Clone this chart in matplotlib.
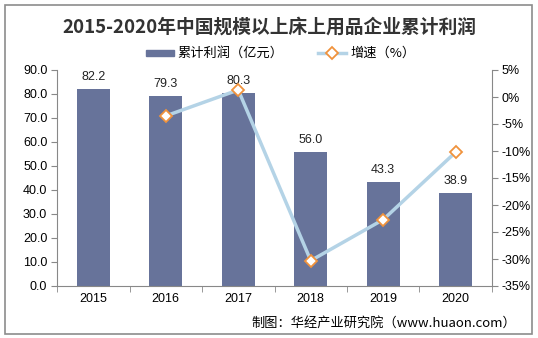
import matplotlib.pyplot as plt
from matplotlib.patches import Rectangle

plt.rcParams['font.family'] = ['Liberation Sans', 'Noto Sans CJK SC', 'DejaVu Sans']

years = ['2015', '2016', '2017', '2018', '2019', '2020']
profit = [82.2, 79.3, 80.3, 56.0, 43.3, 38.9]
growth = [None, -3.5, 1.3, -30.3, -22.7, -10.2]

bar_color = '#67739a'
line_color = '#b4d3e6'
marker_edge = '#f0923c'
axis_color = '#888888'
cjk = ['Noto Sans CJK SC', 'DejaVu Sans']

fig = plt.figure(figsize=(5.38, 3.38), dpi=100)
fig.patches.append(Rectangle((4.5 / 538, 4 / 338), 527.5 / 538, 329 / 338, transform=fig.transFigure,
                             fill=False, edgecolor='#8c8c8c', linewidth=1.2))

ax = fig.add_axes([57 / 538, 1 - 286 / 338, 435 / 538, 216 / 338])
x = list(range(len(years)))
ax.bar(x, profit, width=0.46, color=bar_color, zorder=2)
for xi, v in zip(x, profit):
    ax.text(xi, v + 2.5, '%.1f' % v, ha='center', va='bottom', fontsize=9, color='#222222')

ax.set_xlim(-0.5, 5.5)
ax.set_ylim(0, 90)
ax.set_yticks([i * 10 for i in range(10)])
ax.set_yticklabels(['%.1f' % (i * 10) for i in range(10)], fontsize=9)
ax.set_xticks(x)
ax.set_xticklabels(years, fontsize=9)
ax.set_xticks([i - 0.5 for i in range(7)], minor=True)
ax.tick_params(axis='x', which='major', length=0, pad=5)
ax.tick_params(axis='x', which='minor', length=4, color=axis_color, direction='out')
ax.tick_params(axis='y', length=4, color=axis_color, pad=3)
for s in ['top', 'right']:
    ax.spines[s].set_visible(False)
for s in ['left', 'bottom']:
    ax.spines[s].set_color(axis_color)

ax2 = ax.twinx()
gx = [xi for xi, g in zip(x, growth) if g is not None]
gy = [g for g in growth if g is not None]
ax2.plot(gx, gy, color=line_color, linewidth=2.5, marker='D', markersize=6,
         markerfacecolor='white', markeredgecolor=marker_edge, markeredgewidth=1.3, zorder=3)
ax2.set_ylim(-35, 5)
ax2.set_yticks(list(range(-35, 6, 5)))
ax2.set_yticklabels(['%d%%' % t for t in range(-35, 6, 5)], fontsize=9)
ax2.tick_params(axis='y', length=4, color=axis_color, pad=3)
for s in ['top', 'left', 'bottom']:
    ax2.spines[s].set_visible(False)
ax2.spines['right'].set_color(axis_color)

fig.text(269 / 538, 1 - 27 / 338, '2015-2020年中国规模以上床上用品企业累计利润', ha='center', va='center',
         fontsize=13.5, fontweight='bold', color='#333333', family=cjk)

# legend
fig.patches.append(Rectangle((146 / 538, 1 - 56 / 338), 28 / 538, 6 / 338,
                             transform=fig.transFigure, color=bar_color))
fig.text(177 / 538, 1 - 53 / 338, '累计利润（亿元）', va='center', fontsize=9.5, family=cjk)
fig.lines.append(plt.Line2D([318 / 538, 346 / 538], [1 - 53 / 338, 1 - 53 / 338],
                            transform=fig.transFigure, color=line_color, linewidth=2.5))
fig.lines.append(plt.Line2D([332 / 538], [1 - 53 / 338], transform=fig.transFigure,
                            marker='D', markersize=6, markerfacecolor='white',
                            markeredgecolor=marker_edge, markeredgewidth=1.3))
fig.text(350 / 538, 1 - 53 / 338, '增速（%）', va='center', fontsize=9.5, family=cjk)

fig.text(516 / 538, 1 - 323 / 338, '制图：华经产业研究院（www.huaon.com）', ha='right',
         va='center', fontsize=9.5, family=cjk)

fig.savefig('out.png', dpi=100)
